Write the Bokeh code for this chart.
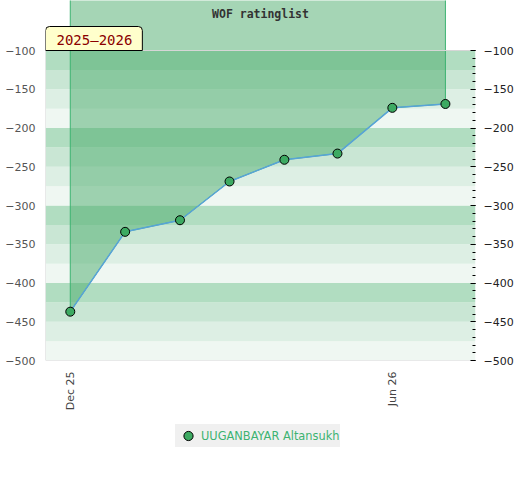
import math
import pandas as pd
from bokeh.plotting import figure
from bokeh.layouts import column
from bokeh.models import (Range1d, LinearAxis, FixedTicker, SingleIntervalTicker,
                          DatetimeTickFormatter, Label, Legend, LegendItem, ColumnDataSource)
from bokeh.embed import file_html
from bokeh.resources import INLINE

# ---- data ----
dates = ["2025-12-01", "2026-01-01", "2026-02-01", "2026-03-01",
         "2026-04-01", "2026-05-01", "2026-06-01", "2026-07-01"]
ratings = [-437, -334, -319, -269, -241, -233, -174, -169]
player = "UUGANBAYAR Altansukh"
season = "2025–2026"
chart_title = "WOF ratinglist"
x_tick_dates = ["2025-12-01", "2026-06-01"]
y_min, y_max = -500, -100
x_start, x_end = "2025-11-17", "2026-07-18"

dt = pd.to_datetime(dates)
xs = pd.to_datetime(x_start)
xe = pd.to_datetime(x_end)

# layout
W, H = 520, 420
left_b, right_b = 45, 45
frame_h = 360
bottom_b = H - frame_h
data_px = 310
top_ext = (frame_h - data_px) * (y_max - y_min) / data_px

p = figure(width=W, height=H, output_backend="svg", toolbar_location=None,
           x_axis_type="datetime",
           x_range=Range1d(xs, xe), y_range=Range1d(y_min, y_max + top_ext),
           min_border_left=left_b, min_border_right=right_b,
           min_border_top=0, min_border_bottom=bottom_b,
           y_axis_location=None)
p.outline_line_color = None
p.xgrid.visible = False
p.ygrid.visible = False
p.background_fill_color = "white"
p.border_fill_color = "white"

# background bands
band_colors = ["#b1ddc1", "#c9e6d4", "#ddefe4", "#eff7f2"]
bb, bt, bc = [], [], []
for b in range(y_min, y_max, 25):
    t = b + 25
    bb.append(b); bt.append(t)
    bc.append(band_colors[((y_max - t) // 25) % 4])
p.quad(left=xs, right=xe, bottom=bb, top=bt, fill_color=bc, line_color=None)

# area fill from line up to zero
px = list(dt) + list(dt[::-1])
py = list(ratings) + [0] * len(ratings)
p.patch(px, py, fill_color="#4bab6b", fill_alpha=0.5, line_color="#3cb371", line_width=1)

# frame border lines
p.segment(x0=[xs, xs, xs], y0=[y_max, y_min, y_min], x1=[xe, xe, xs], y1=[y_max, y_min, y_max],
          line_color="#d6d6d6", line_width=1)

marker_style = dict(fill_color="#3daa62", line_color="black", line_width=1)
src = ColumnDataSource(dict(x=dt, y=ratings))
p.line("x", "y", source=src, line_color="#58a3d8", line_width=1.5)
sc = p.scatter("x", "y", source=src, size=9, **marker_style)

# x axis
xa = p.xaxis[0]
xa.ticker = FixedTicker(ticks=[pd.Timestamp(d).value // 10**6 for d in x_tick_dates])
fmt = "%b %y"
xa.formatter = DatetimeTickFormatter(days=fmt, months=fmt, years=fmt, hours=fmt,
                                     minutes=fmt, seconds=fmt, milliseconds=fmt, microseconds=fmt)
xa.major_label_orientation = math.pi / 2
xa.axis_line_color = None
xa.major_tick_line_color = None
xa.minor_tick_line_color = None
xa.major_tick_out = 0
xa.minor_tick_out = 0
xa.major_label_standoff = 11
xa.major_label_text_font = "DejaVu Sans"
xa.major_label_text_font_size = "11px"
xa.major_label_text_color = "#444444"

# left axis
la = LinearAxis(ticker=SingleIntervalTicker(interval=50, num_minor_ticks=5), bounds=(y_min, y_max))
la.axis_line_color = None
la.major_tick_line_color = None
la.minor_tick_line_color = None
la.major_tick_out = 0
la.minor_tick_out = 0
la.major_label_standoff = 10
la.major_label_text_font = "DejaVu Sans"
la.major_label_text_font_size = "11px"
la.major_label_text_color = "#555555"
p.add_layout(la, "left")

# right axis
ra = LinearAxis(ticker=SingleIntervalTicker(interval=50, num_minor_ticks=5), bounds=(y_min, y_max))
ra.axis_line_color = None
ra.major_tick_in = 5
ra.major_tick_out = 0
ra.minor_tick_in = 3
ra.minor_tick_out = 0
ra.major_tick_line_color = "black"
ra.minor_tick_line_color = "black"
ra.major_label_standoff = 8
ra.major_label_text_font = "DejaVu Sans"
ra.major_label_text_font_size = "11px"
ra.major_label_text_color = "#222222"
p.add_layout(ra, "right")

# title
xmid = xs + (xe - xs) / 2
p.add_layout(Label(x=xmid, y=y_max + top_ext, y_offset=-13, text=chart_title,
                   text_align="center", text_baseline="middle",
                   text_font="DejaVu Sans Mono", text_font_style="bold",
                   text_font_size="11.5px", text_color="#333333"))

# season label
p.add_layout(Label(x=xs, y=y_max, x_offset=0, y_offset=0, text=season,
                   text_align="left", text_baseline="bottom",
                   text_font="DejaVu Sans Mono", text_font_size="14px", text_color="#8b0000",
                   background_fill_color="#ffffcc", border_line_color="black", border_line_width=1,
                   padding=dict(top=5, right=10, bottom=3, left=11),
                   border_radius=dict(top_left=4, top_right=4, bottom_right=0, bottom_left=0)))

# legend strip below the chart (its marker sits outside the strip's view)
LH = 52
lf = figure(width=W, height=LH, output_backend="svg", toolbar_location=None,
            x_range=Range1d(0, 1), y_range=Range1d(0, 1),
            min_border_left=left_b, min_border_right=right_b,
            min_border_top=0, min_border_bottom=0,
            x_axis_location=None, y_axis_location=None)
lf.outline_line_color = None
lf.xgrid.visible = False
lf.ygrid.visible = False
lsrc = ColumnDataSource(dict(x=[dt[0]], y=[ratings[0]]))
lsc = lf.scatter("x", "y", source=lsrc, size=7, **marker_style)
legend = Legend(items=[LegendItem(label=player, renderers=[lsc])], location=(130, LH - 27),
                orientation="horizontal", margin=0, padding=0,
                glyph_width=26, glyph_height=23, label_height=23, label_standoff=0,
                label_text_font="DejaVu Sans", label_text_font_size="11.4px",
                label_text_color="#3cb371", background_fill_color="#f0f0f0",
                background_fill_alpha=1, border_line_color=None)
lf.add_layout(legend)

layout = column(p, lf, spacing=0)
open("out.html", "w").write(file_html(layout, INLINE))
